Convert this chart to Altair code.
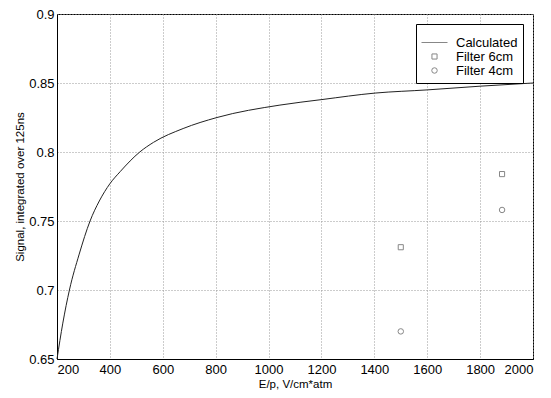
import altair as alt
import pandas as pd

# Calculated curve
calc_x = [200, 222, 247, 284, 325, 360, 400, 440, 513, 565, 677, 805, 1043, 1202, 1403, 1600, 1800, 2000]
calc_y = [0.650, 0.676, 0.700, 0.726, 0.750, 0.7645, 0.777, 0.786, 0.800, 0.807, 0.817, 0.825, 0.834, 0.838, 0.8427, 0.845, 0.8477, 0.850]

f6_x = [1500, 1883]
f6_y = [0.731, 0.784]
f4_x = [1500, 1883]
f4_y = [0.670, 0.758]

series = ["Calculated", "Filter 6cm", "Filter 4cm"]

line_df = pd.DataFrame({"x": calc_x, "y": calc_y, "s": "Calculated"})
pts_df = pd.DataFrame({
    "x": f6_x + f4_x,
    "y": f6_y + f4_y,
    "s": ["Filter 6cm"] * len(f6_x) + ["Filter 4cm"] * len(f4_x),
})

xs = alt.X("x:Q", scale=alt.Scale(domain=[200, 2000], nice=False),
           axis=alt.Axis(title="E/p, V/cm*atm", values=list(range(200, 2001, 200)), format="d"))
ys = alt.Y("y:Q", scale=alt.Scale(domain=[0.65, 0.9], nice=False, zero=False),
           axis=alt.Axis(title="Signal, integrated over 125ns",
                         values=[0.65, 0.7, 0.75, 0.8, 0.85, 0.9], format=".2~f"))

line = alt.Chart(line_df).mark_line(color="#222", strokeWidth=1, interpolate="monotone").encode(x=xs, y=ys)

pts = alt.Chart(pts_df).mark_point(filled=False, color="#555", strokeWidth=1).encode(
    x=xs, y=ys,
    shape=alt.Shape("s:N", scale=alt.Scale(type="ordinal", domain=series, range=["stroke", "square", "circle"]),
                    legend=alt.Legend(title=None)),
    size=alt.Size("s:N", scale=alt.Scale(type="ordinal", domain=series, range=[676, 26, 30]),
                  legend=alt.Legend(title=None)),
)

chart = alt.layer(line, pts).properties(
    width=476, height=345,
    autosize=alt.AutoSizeParams(type="none"),
    padding={"left": 49, "top": 6, "right": 10, "bottom": 40},
).configure_view(stroke="black", strokeWidth=1).configure_axis(
    labelFont="Liberation Sans", labelFontSize=13, labelColor="black",
    titleFont="Liberation Sans", titleFontSize=11.5, titleFontWeight="normal", titleColor="black",
    gridDash=[1, 2], gridColor="#999", gridWidth=1,
    domainColor="black", ticks=False, labelPadding=3,
).configure_axisX(titlePadding=2, labelPadding=4).configure_axisY(titlePadding=3).configure_legend(
    orient="top-right", offset=10, strokeColor="black", fillColor="white",
    padding=5, labelFont="Liberation Sans", labelFontSize=13, labelColor="black",
    symbolStrokeWidth=1, rowPadding=0, labelOffset=8,
)

chart.save("out.html", embed_options={"renderer": "svg", "actions": False})
